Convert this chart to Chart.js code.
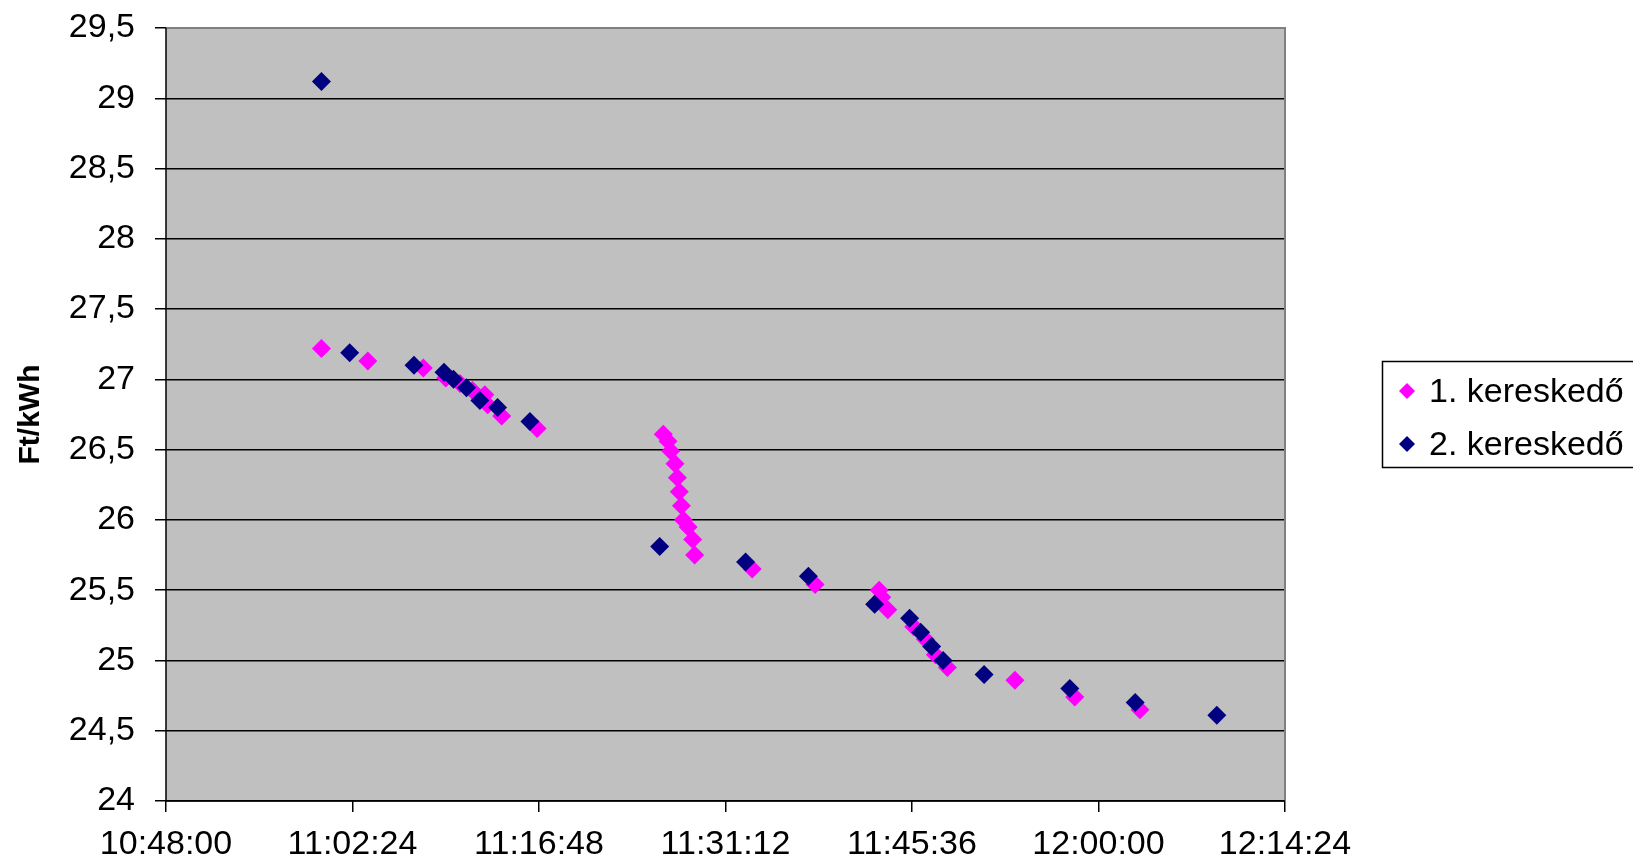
<!DOCTYPE html>
<html>
<head>
<meta charset="utf-8">
<script src="https://cdn.jsdelivr.net/npm/chart.js@4.4.0/dist/chart.umd.min.js"></script>
<style>
  body { margin: 0; background: #fff; }
  #wrap { width: 1633px; height: 868px; }
</style>
</head>
<body>
<div id="wrap"><canvas id="priceChart"></canvas></div>
<script>
// 1. kereskedő
const times1 = ["11:00:00","11:03:35","11:07:52","11:09:36","11:10:42","11:11:40","11:12:37","11:12:50","11:13:55","11:16:39",
  "11:26:24","11:26:46","11:26:58","11:27:18","11:27:29","11:27:38","11:27:48","11:27:57","11:28:19","11:28:40","11:28:49",
  "11:33:16","11:38:07","11:43:04","11:43:16","11:43:44","11:45:44","11:46:38","11:47:24","11:48:20","11:53:33","11:58:10","12:03:12"];
const values1 = [27.22,27.13,27.08,27.01,26.97,26.92,26.89,26.82,26.74,26.65,
  26.61,26.56,26.49,26.40,26.30,26.20,26.10,26.00,25.95,25.86,25.75,
  25.65,25.54,25.50,25.45,25.36,25.24,25.15,25.04,24.95,24.86,24.74,24.65];

// 2. kereskedő
const times2 = ["11:00:00","11:02:11","11:07:09","11:09:28","11:10:12","11:11:12","11:12:14","11:13:36","11:16:06",
  "11:26:07","11:32:45","11:37:36","11:42:43","11:45:25","11:46:16","11:47:07","11:48:00","11:51:10","11:57:47","12:02:50","12:09:08"];
const values2 = [29.12,27.19,27.10,27.05,27.00,26.94,26.85,26.80,26.70,
  25.81,25.70,25.60,25.40,25.30,25.20,25.10,25.00,24.90,24.80,24.70,24.61];

const seriesNames = ["1. kereskedő", "2. kereskedő"];
const seriesColors = ["#FF00FF", "#000080"];

// x tengely: 10:48:00 - 12:14:24, 14:24 lépés
const xMin = "10:48:00";
const xMax = "12:14:24";
const xStep = 864;

function toSec(t) {
  const p = t.split(":").map(Number);
  return p[0] * 3600 + p[1] * 60 + p[2];
}
function fmtTime(s) {
  const h = Math.floor(s / 3600), m = Math.floor((s % 3600) / 60), sec = Math.round(s % 60);
  return h + ":" + String(m).padStart(2, "0") + ":" + String(sec).padStart(2, "0");
}
function points(times, vals) {
  return times.map((t, i) => ({ x: toSec(t), y: vals[i] }));
}

const FONT = "'Liberation Sans', Arial, sans-serif";

// hatter, keret, jelmagyarazat
const frame = {
  id: "frame",
  beforeDraw(chart) {
    const a = chart.chartArea, ctx = chart.ctx;
    ctx.save();
    ctx.fillStyle = "#C0C0C0";
    ctx.fillRect(a.left, a.top, a.right - a.left, a.bottom - a.top);
    ctx.restore();
  },
  beforeDatasetsDraw(chart) {
    const a = chart.chartArea, ctx = chart.ctx;
    ctx.save();
    ctx.strokeStyle = "#808080";
    ctx.lineWidth = 2;
    ctx.beginPath();
    ctx.moveTo(a.left, a.top);
    ctx.lineTo(a.right, a.top);
    ctx.lineTo(a.right, a.bottom);
    ctx.stroke();
    ctx.strokeStyle = "#000";
    ctx.lineWidth = 1.5;
    ctx.beginPath();
    ctx.moveTo(a.left, a.top);
    ctx.lineTo(a.left, a.bottom);
    ctx.lineTo(a.right, a.bottom);
    ctx.stroke();
    ctx.restore();
  },
  afterDraw(chart) {
    const ctx = chart.ctx;
    ctx.save();
    ctx.strokeStyle = "#000";
    ctx.lineWidth = 1.5;
    ctx.strokeRect(1382.5, 361.5, 300, 106);
    ctx.font = "34px " + FONT;
    ctx.textBaseline = "alphabetic";
    for (let i = 0; i < seriesNames.length; i++) {
      const cy = 391 + i * 53;
      ctx.fillStyle = seriesColors[i];
      ctx.beginPath();
      ctx.moveTo(1407, cy - 8);
      ctx.lineTo(1415, cy);
      ctx.lineTo(1407, cy + 8);
      ctx.lineTo(1399, cy);
      ctx.closePath();
      ctx.fill();
      ctx.fillStyle = "#000";
      ctx.fillText(seriesNames[i], 1429, cy + 11);
    }
    ctx.restore();
  }
};

new Chart(document.getElementById("priceChart"), {
  type: "scatter",
  data: {
    datasets: [
      {
        label: seriesNames[0],
        data: points(times1, values1),
        backgroundColor: seriesColors[0],
        borderColor: seriesColors[0],
        borderWidth: 0,
        pointStyle: "rectRot",
        pointRadius: 9.5,
        order: 1
      },
      {
        label: seriesNames[1],
        data: points(times2, values2),
        backgroundColor: seriesColors[1],
        borderColor: seriesColors[1],
        borderWidth: 0,
        pointStyle: "rectRot",
        pointRadius: 9.5,
        order: 0
      }
    ]
  },
  options: {
    responsive: true,
    maintainAspectRatio: false,
    devicePixelRatio: 1,
    animation: false,
    layout: { padding: { left: 0, top: 28, right: 348, bottom: 0 } },
    plugins: {
      legend: { display: false },
      tooltip: { enabled: false }
    },
    scales: {
      x: {
        type: "linear",
        min: toSec(xMin),
        max: toSec(xMax),
        afterBuildTicks(scale) {
          const t = [];
          for (let v = toSec(xMin); v <= toSec(xMax); v += xStep) t.push({ value: v });
          scale.ticks = t;
        },
        afterFit(scale) { scale.height = 67; },
        ticks: {
          callback: (v) => fmtTime(v),
          color: "#000",
          font: { family: FONT, size: 34 },
          maxRotation: 0,
          autoSkip: false,
          padding: 12
        },
        grid: { drawOnChartArea: false, drawTicks: true, tickLength: 11, color: "#000", lineWidth: 1.5 },
        border: { display: false }
      },
      y: {
        min: 24,
        max: 29.5,
        afterFit(scale) {
          scale.width = 166;
          scale.paddingTop = 0;
          scale.paddingBottom = 0;
        },
        ticks: {
          stepSize: 0.5,
          callback: (v) => String(v).replace(".", ","),
          color: "#000",
          font: { family: FONT, size: 34 },
          padding: 20
        },
        grid: { color: "#000", lineWidth: 1.5, tickLength: 11 },
        border: { display: false },
        title: {
          display: true,
          text: "Ft/kWh",
          color: "#000",
          font: { family: FONT, size: 30, weight: "bold" },
          padding: { top: 13, bottom: 0 }
        }
      }
    }
  },
  plugins: [frame]
});
</script>
</body>
</html>
